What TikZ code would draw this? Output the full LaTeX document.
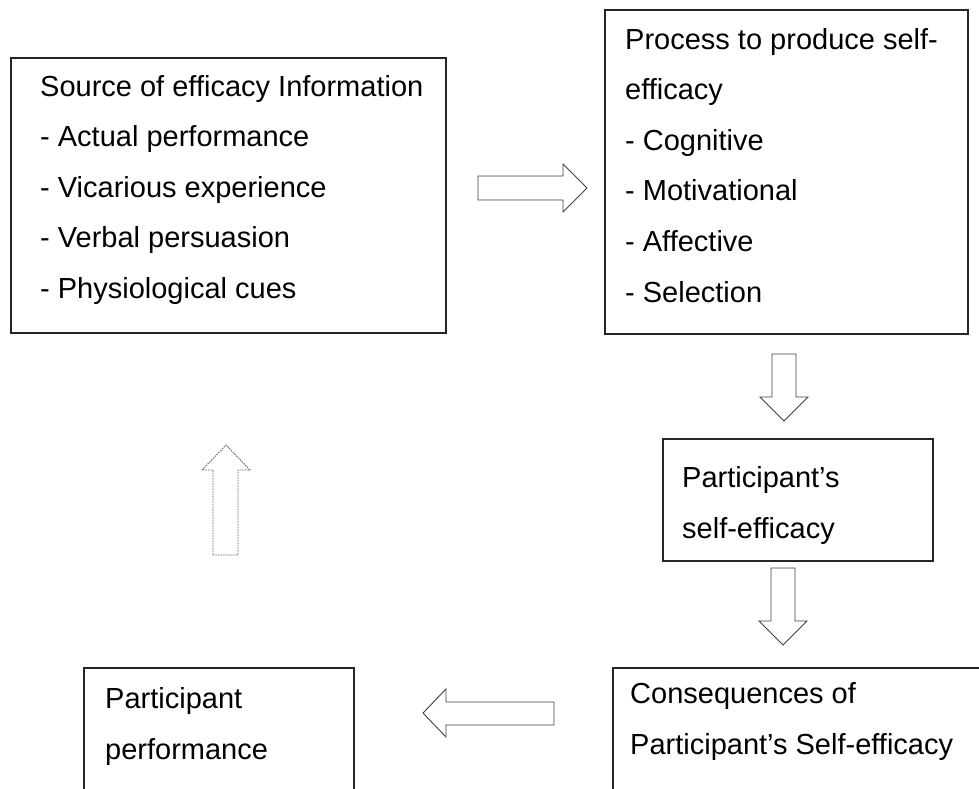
\documentclass[tikz,border=0pt]{standalone}
\usepackage{fontspec}
\setmainfont{Liberation Sans}
\usetikzlibrary{positioning}

\begin{document}
\begin{tikzpicture}[
    x=1pt, y=-1pt,
    box/.style={rectangle, draw=black!85, line width=1.6pt, anchor=north west, inner sep=0pt},
    boxtext/.style={anchor=base west, align=left, inner sep=0pt, font=\fontsize{29}{50.6}\selectfont},
    hollow/.style={draw=black!75, line width=0.9pt, fill=white, line join=miter},
    hollowdots/.style={hollow, draw=black!60, dash pattern=on 1.6pt off 1pt}
]
\clip (0,0) rectangle (979,789);

% Boxes
\node[box, minimum width=435pt, minimum height=275pt] (Source) at (10,57) {};
\node[box, minimum width=363pt, minimum height=324pt] (Process) at (604,9) {};
\node[box, minimum width=270pt, minimum height=122pt] (SelfEff) at (662,438) {};
\node[box, minimum width=372pt, minimum height=130pt] (Conseq) at (612,667) {};
\node[box, minimum width=270pt, minimum height=130pt] (Perform) at (83,667) {};

% Texts (placed by the baseline of their last line)
\node[boxtext] (Source_Txt) at (40,298.4) {Source of efficacy Information \\ - Actual performance \\ - Vicarious experience \\ - Verbal persuasion \\ - Physiological cues};
\node[boxtext] (Process_Txt) at (625,302) {Process to produce self- \\ efficacy \\ - Cognitive \\ - Motivational \\ - Affective \\ - Selection};
\node[boxtext] (SelfEff_Txt) at (682,538) {Participant’s \\ self-efficacy};
\node[boxtext] (Conseq_Txt) at (630,754) {Consequences of \\ Participant’s Self-efficacy};
\node[boxtext] (Perform_Txt) at (105,759) {Participant \\ performance};

% Block arrows
\draw[hollow] (478,176) -- (563,176) -- (563,164) -- (587,188) -- (563,212) -- (563,200) -- (478,200) -- cycle;
\draw[hollow] (772,354) -- (796,354) -- (796,397) -- (808,397) -- (784,421) -- (760,397) -- (772,397) -- cycle;
\draw[hollow] (771,568) -- (795,568) -- (795,621) -- (807,621) -- (783,645) -- (759,621) -- (771,621) -- cycle;
\draw[hollow] (554,702) -- (446,702) -- (446,689) -- (423,713) -- (446,737) -- (446,725) -- (554,725) -- cycle;
\draw[hollowdots] (213,555) -- (213,470) -- (202,470) -- (226,445) -- (250,470) -- (238,470) -- (238,555) -- cycle;

\end{tikzpicture}
\end{document}
